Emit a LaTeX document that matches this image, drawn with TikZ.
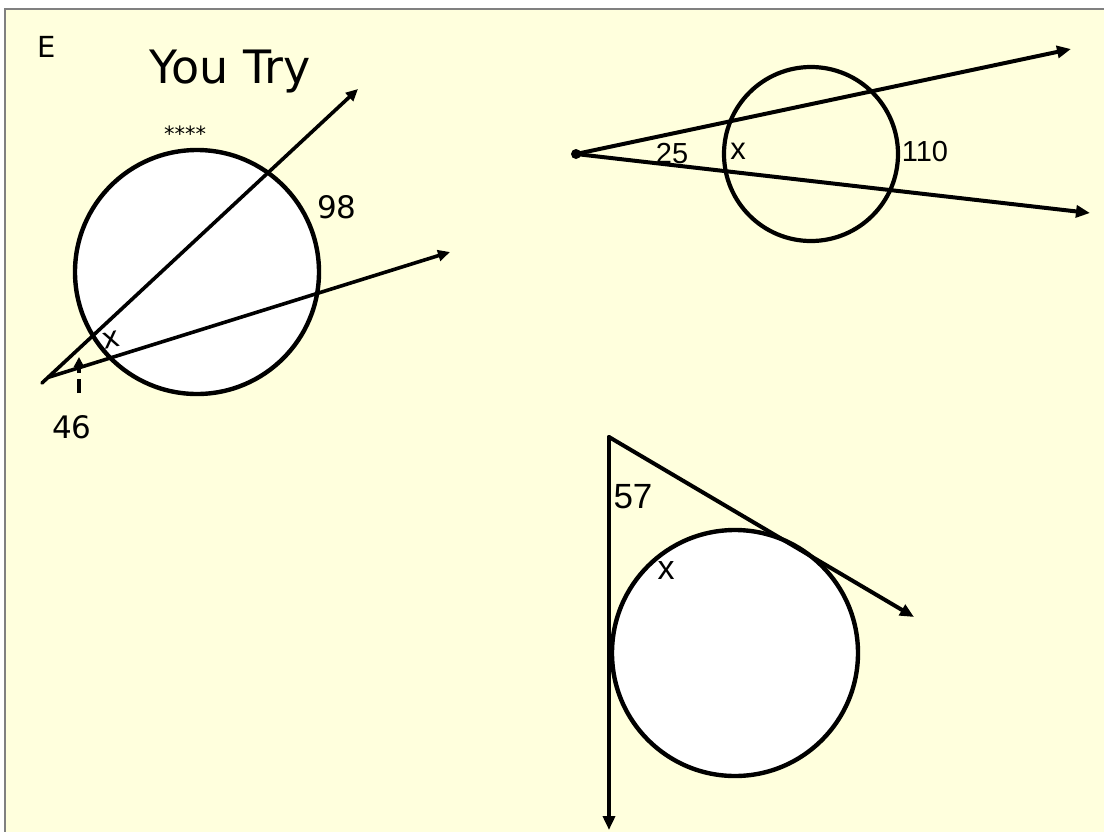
\documentclass[tikz,border=0pt]{standalone}
\usepackage{fontspec}
\setmainfont{Liberation Sans}
\newfontfamily\tahoma{DejaVu Sans}
\usetikzlibrary{arrows.meta}
\definecolor{bgyellow}{HTML}{FFFFDD}
\definecolor{framegray}{HTML}{808080}
\begin{document}
\begin{tikzpicture}[x=1pt,y=-1pt,
  geo/.style={line width=4.2pt, line cap=round},
  thin ray/.style={line width=3.6pt, line cap=round, -{Triangle[length=12pt,width=11pt]}},
  ray/.style={line width=4pt, line cap=round, -{Triangle[length=14pt,width=12pt]}},
  disc/.style={line width=4.4pt, fill=white},
  lbl/.style={inner sep=0pt, font=\fontsize{29}{31}\selectfont},
  tlbl/.style={inner sep=0pt, font=\tahoma\fontsize{31}{33}\selectfont}
]
\useasboundingbox (0,0) rectangle (1104,831);
\fill[white] (0,0) rectangle (1104,831);
\draw[framegray, line width=2pt, fill=bgyellow] (5,9) rectangle (1130,860);

% ---------- left figure ----------
\node[inner sep=0pt, font=\tahoma\fontsize{29}{31}\selectfont] (E) at (47,47) {E};
\node[inner sep=0pt, anchor=base, font=\tahoma\fontsize{46}{50}\selectfont] (title) at (230,83) {You Try};
\draw[disc] (197,272) circle[radius=122];
\coordinate (A) at (42,383);
\coordinate (A1) at (48,377.4);
\coordinate (B) at (358,89);
\coordinate (C) at (450,252);
\draw[thin ray] (A) -- (B);
\draw[thin ray] (A1) -- (C);
\coordinate (D0) at (79,393);
\coordinate (D1) at (79,357);
\draw[line width=3.6pt, dash pattern=on 14pt off 6pt, -{Triangle[length=10pt,width=10pt]}] (D0) -- (D1);
\node[inner sep=0pt, font=\tahoma\fontsize{21}{23}\selectfont] (stars) at (185,134) {****};
\node[tlbl, anchor=base] (n98) at (337,218) {98};
\node[tlbl, anchor=base] (n46) at (72,438) {46};
\node[inner sep=0pt, font=\tahoma\fontsize{29}{31}\selectfont, rotate=12] (x1) at (111,340) {x};

% ---------- top right figure ----------
\draw[geo] (811,154) circle[radius=87];
\coordinate (V) at (576,154);
\coordinate (T1) at (1071,49);
\coordinate (T2) at (1090,213);
\draw[ray] (V) -- (T1);
\draw[ray] (V) -- (T2);
\fill (V) circle[radius=5];
\node[lbl, anchor=base] (n25) at (672,163) {25};
\node[lbl, anchor=base, font=\fontsize{31}{33}\selectfont] (x2) at (738,159) {x};
\node[lbl, anchor=base] (n110) at (925,161) {110};

% ---------- bottom right figure ----------
\draw[disc] (735,653) circle[radius=123];
\coordinate (W) at (609,437);
\coordinate (W1) at (609,830);
\coordinate (W2) at (914,617);
\draw[ray] (W) -- (W1);
\draw[ray] (W) -- (W2);
\node[inner sep=0pt, anchor=base, font=\fontsize{35}{37}\selectfont] (n57) at (633,508) {57};
\node[inner sep=0pt, font=\fontsize{34}{36}\selectfont] (x3) at (666,571) {x};
\end{tikzpicture}
\end{document}
